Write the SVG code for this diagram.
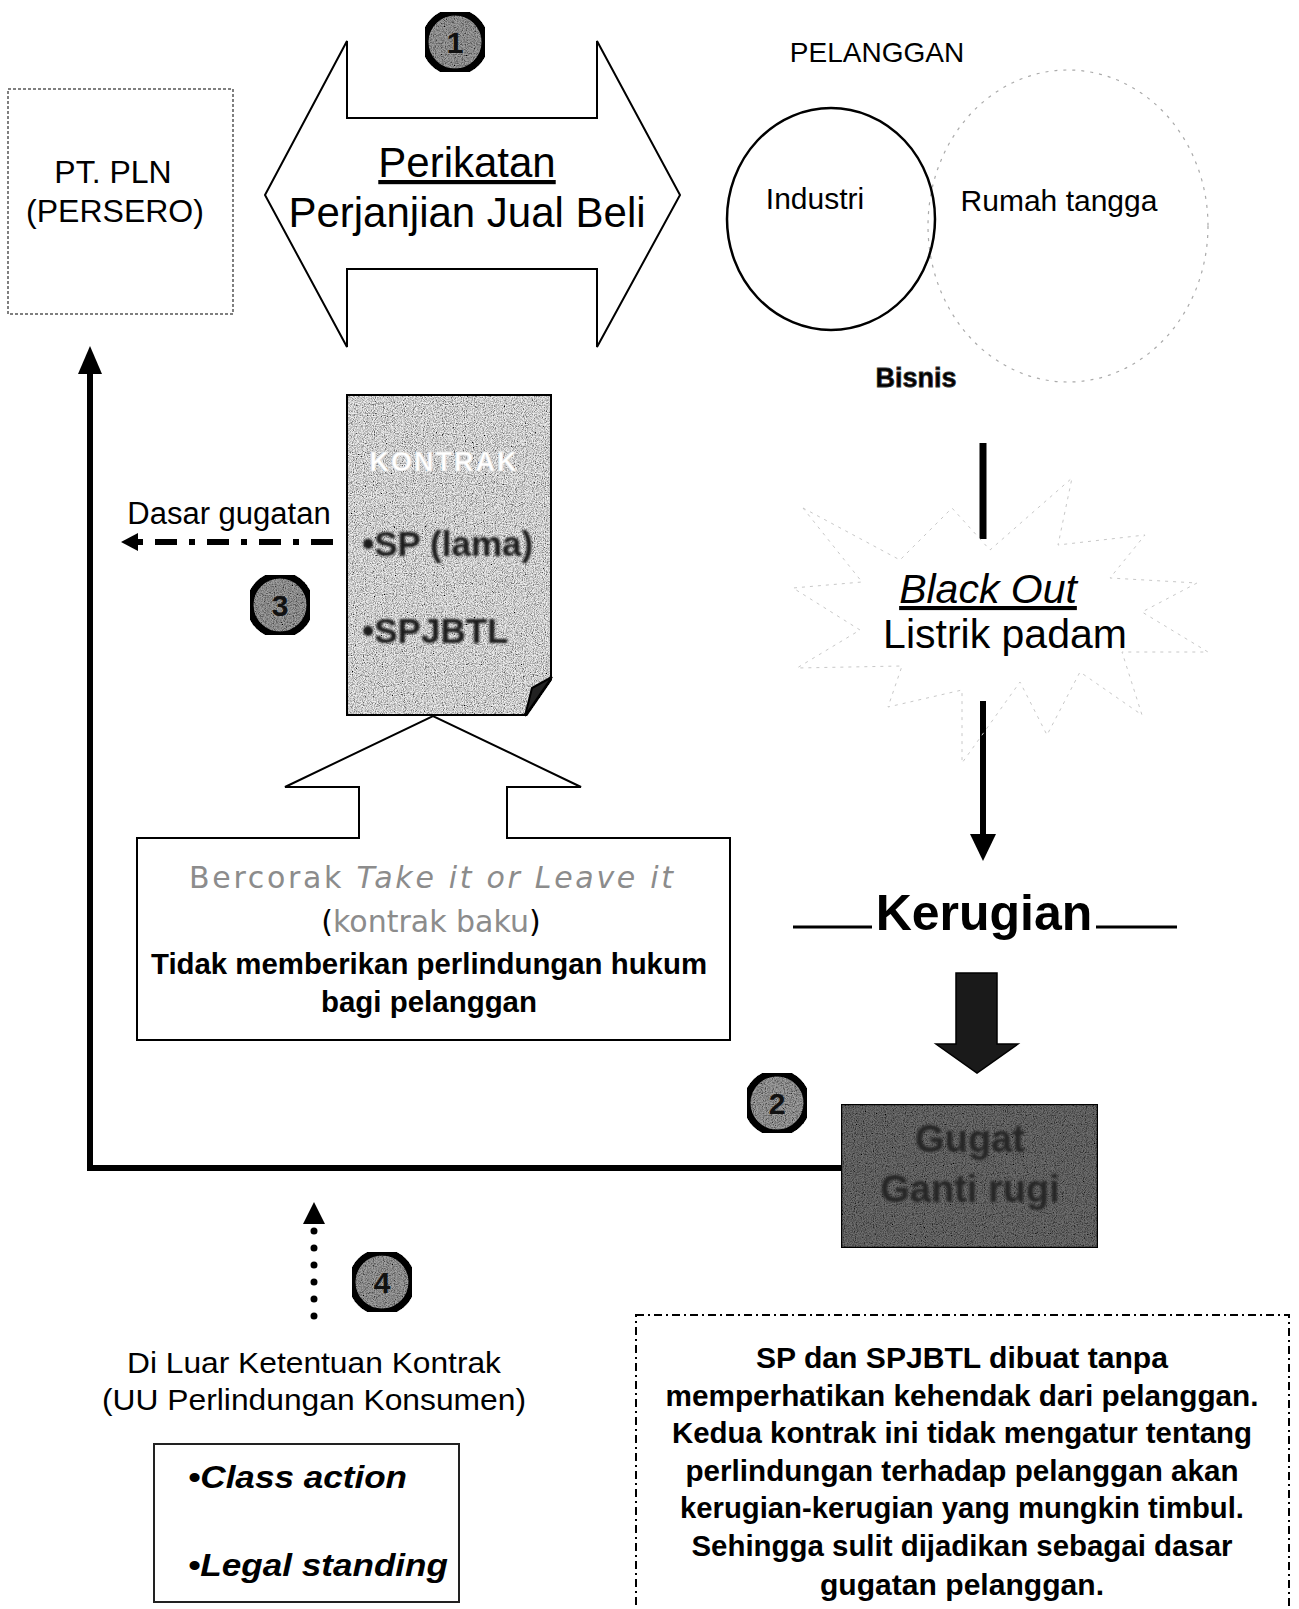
<svg xmlns="http://www.w3.org/2000/svg" width="1299" height="1609" viewBox="0 0 1299 1609">
<defs>
<filter id="grain" x="0%" y="0%" width="100%" height="100%">
  <feTurbulence type="fractalNoise" baseFrequency="0.9" numOctaves="2" seed="7" result="t"/>
  <feColorMatrix in="t" type="saturate" values="0" result="g"/>
  <feComponentTransfer in="g" result="c">
    <feFuncR type="linear" slope="2.6" intercept="-0.6"/>
    <feFuncG type="linear" slope="2.6" intercept="-0.6"/>
    <feFuncB type="linear" slope="2.6" intercept="-0.6"/>
    <feFuncA type="linear" slope="0" intercept="1"/>
  </feComponentTransfer>
  <feBlend in="SourceGraphic" in2="c" mode="multiply" result="m"/>
  <feComposite in="m" in2="SourceGraphic" operator="in"/>
</filter>
<filter id="soft" x="-10%" y="-30%" width="120%" height="160%">
  <feGaussianBlur stdDeviation="1.3"/>
</filter>
</defs>
<style>
  text { font-family: "Liberation Sans", Arial, sans-serif; fill: #000; }
  .c { text-anchor: middle; }
  .b { font-weight: bold; }
  .i { font-style: italic; }
  .num { font-size: 30px; font-weight: bold; text-anchor: middle; fill: #111; }
  .badge { fill: #a0a0a0; stroke: #000; stroke-width: 7; filter: url(#grain); }
</style>
<rect width="1299" height="1609" fill="#fff"/>

<g id="connectors" fill="none" stroke="#000">
  <polyline points="841,1168 90,1168 90,372" stroke-width="6"/>
  <path d="M78,374 L90,346 L102,374 Z" fill="#000" stroke="none"/>
  <line x1="983" y1="443" x2="983" y2="539" stroke-width="7"/>
  <line x1="983" y1="701" x2="983" y2="836" stroke-width="6"/>
  <path d="M970,834 L983,861 L996,834 Z" fill="#000" stroke="none"/>
  <line x1="333" y1="542" x2="138" y2="542" stroke-width="6" stroke-dasharray="22 12 6 12"/>
  <path d="M138,533 L121,542 L138,551 Z" fill="#000" stroke="none"/>
  <line x1="314" y1="1316" x2="314" y2="1228" stroke-width="7" stroke-linecap="round" stroke-dasharray="0 17"/>
  <path d="M303,1224 L314,1202 L325,1224 Z" fill="#000" stroke="none"/>
  <line x1="793" y1="927" x2="872" y2="927" stroke-width="3"/>
  <line x1="1096" y1="927" x2="1177" y2="927" stroke-width="3"/>
  <path d="M956,973 H997 V1044 H1018 L977,1073 L936,1044 H956 Z" fill="#1a1a1a" stroke="#000" stroke-width="1.5"/>
</g>

<g id="pln">
  <rect x="8" y="89" width="225" height="225" fill="#fff" stroke="#555" stroke-width="1.5" stroke-dasharray="3 2"/>
  <text x="113" y="183" class="c" font-size="32">PT. PLN</text>
  <text x="115" y="222" class="c" font-size="32">(PERSERO)</text>
</g>

<g id="perikatan">
  <path d="M265,195 L347,41 V118 H597 V41 L680,195 L597,347 V269 H347 V347 Z" fill="#fff" stroke="#000" stroke-width="2"/>
  <text x="467" y="177" class="c" font-size="42" text-decoration="underline">Perikatan</text>
  <text x="467" y="227" class="c" font-size="42">Perjanjian Jual Beli</text>
</g>

<g id="badge1">
  <circle cx="455" cy="42" r="30" class="badge"/>
  <text x="455" y="53" class="num">1</text>
</g>

<g id="pelanggan">
  <text x="877" y="62" class="c" font-size="28">PELANGGAN</text>
  <ellipse cx="1068" cy="226" rx="140" ry="156" fill="none" stroke="#aaa" stroke-width="1.2" stroke-dasharray="3 6"/>
  <ellipse cx="831" cy="219" rx="104" ry="111" fill="none" stroke="#000" stroke-width="2.5"/>
  <text x="815" y="209" class="c" font-size="30">Industri</text>
  <text x="1059" y="211" class="c" font-size="30">Rumah tangga</text>
  <text x="916" y="387" class="c b" font-size="27" fill="#111" stroke="#333" stroke-width="0.8">Bisnis</text>
</g>

<g id="kontrak">
  <path d="M346,394 H552 V677 L525,716 H346 Z" fill="#eeeeee" stroke="#000" stroke-width="4" filter="url(#grain)"/>
  <path d="M525,716 L532,688 L552,677 Z" fill="#222" stroke="#000" stroke-width="2"/>
  <text x="444" y="471" class="c b" font-size="27" letter-spacing="2" style="fill:#fff" stroke="#e0e0e0" stroke-width="0.6">KONTRAK</text>
  <text x="362" y="556" class="b" font-size="35" style="fill:#1a1a1a" filter="url(#soft)">•SP (lama)</text>
  <text x="362" y="643" class="b" font-size="35" style="fill:#1a1a1a" filter="url(#soft)">•SPJBTL</text>
</g>

<g id="dasar">
  <text x="229" y="524" class="c" font-size="31">Dasar gugatan</text>
</g>

<g id="badge3">
  <circle cx="280" cy="605" r="30" class="badge"/>
  <text x="280" y="616" class="num">3</text>
</g>

<g id="baku">
  <path d="M137,838 H359 V787 H285 L433,716 L581,787 H507 V838 H730 V1040 H137 Z" fill="#fff" stroke="#000" stroke-width="2"/>
  <text x="431" y="888" class="c" font-size="30" textLength="484" lengthAdjust="spacing" style="font-family:'DejaVu Sans',sans-serif;fill:#8c8c8c">Bercorak <tspan font-style="italic">Take it or Leave it</tspan></text>
  <text x="431" y="932" class="c" font-size="30" style="font-family:'DejaVu Sans',sans-serif;fill:#8c8c8c"><tspan style="fill:#000">(</tspan>kontrak baku<tspan style="fill:#000">)</tspan></text>
  <text x="429" y="974" class="c b" font-size="30" textLength="556" lengthAdjust="spacingAndGlyphs">Tidak memberikan perlindungan hukum</text>
  <text x="429" y="1012" class="c b" font-size="30" textLength="216" lengthAdjust="spacingAndGlyphs">bagi pelanggan</text>
</g>

<g id="blackout">
  <polygon points="803,508 900,560 952,508 990,550 1072,478 1058,545 1145,535 1110,578 1197,583 1142,612 1208,652 1122,652 1142,715 1080,672 1047,735 1020,682 962,763 962,690 888,707 902,666 797,668 860,630 793,588 862,582" fill="none" stroke="#c8c8c8" stroke-width="1" stroke-dasharray="3 5"/>
  <text x="988" y="603" class="c i" font-size="41" text-decoration="underline">Black Out</text>
  <text x="1005" y="648" class="c" font-size="41">Listrik padam</text>
</g>

<g id="kerugian">
  <text x="984" y="930" class="c b" font-size="50">Kerugian</text>
</g>

<g id="badge2">
  <circle cx="777" cy="1103" r="30" class="badge"/>
  <text x="777" y="1114" class="num">2</text>
</g>

<g id="gugat">
  <rect x="841" y="1104" width="257" height="144" fill="#6e6e6e" stroke="#000" stroke-width="2.5" filter="url(#grain)"/>
  <text x="970" y="1152" class="c b" font-size="38" style="fill:#262626" filter="url(#soft)">Gugat</text>
  <text x="970" y="1202" class="c b" font-size="38" style="fill:#262626" filter="url(#soft)">Ganti rugi</text>
</g>

<g id="badge4">
  <circle cx="382" cy="1282" r="30" class="badge"/>
  <text x="382" y="1293" class="num">4</text>
</g>

<g id="luar">
  <text x="314" y="1373" class="c" font-size="30" textLength="374" lengthAdjust="spacingAndGlyphs">Di Luar Ketentuan Kontrak</text>
  <text x="314" y="1410" class="c" font-size="30" textLength="424" lengthAdjust="spacingAndGlyphs">(UU Perlindungan Konsumen)</text>
</g>

<g id="gugatan-jenis">
  <rect x="154" y="1444" width="305" height="158" fill="#fff" stroke="#222" stroke-width="2"/>
  <text x="188" y="1488" class="b i" font-size="32" textLength="219" lengthAdjust="spacingAndGlyphs">•Class action</text>
  <text x="188" y="1576" class="b i" font-size="32" textLength="260" lengthAdjust="spacingAndGlyphs">•Legal standing</text>
</g>

<g id="catatan">
  <rect x="636" y="1315" width="653" height="320" fill="none" stroke="#000" stroke-width="2" stroke-dasharray="8 4 2 4"/>
  <text x="962" y="1368" class="c b" font-size="30" textLength="412" lengthAdjust="spacingAndGlyphs">SP dan SPJBTL dibuat tanpa</text>
  <text x="962" y="1406" class="c b" font-size="30" textLength="593" lengthAdjust="spacingAndGlyphs">memperhatikan kehendak dari pelanggan.</text>
  <text x="962" y="1443" class="c b" font-size="30" textLength="580" lengthAdjust="spacingAndGlyphs">Kedua kontrak ini tidak mengatur tentang</text>
  <text x="962" y="1481" class="c b" font-size="30" textLength="553" lengthAdjust="spacingAndGlyphs">perlindungan terhadap pelanggan akan</text>
  <text x="962" y="1518" class="c b" font-size="30" textLength="564" lengthAdjust="spacingAndGlyphs">kerugian-kerugian yang mungkin timbul.</text>
  <text x="962" y="1556" class="c b" font-size="30" textLength="541" lengthAdjust="spacingAndGlyphs">Sehingga sulit dijadikan sebagai dasar</text>
  <text x="962" y="1595" class="c b" font-size="30" textLength="284" lengthAdjust="spacingAndGlyphs">gugatan pelanggan.</text>
</g>
</svg>
